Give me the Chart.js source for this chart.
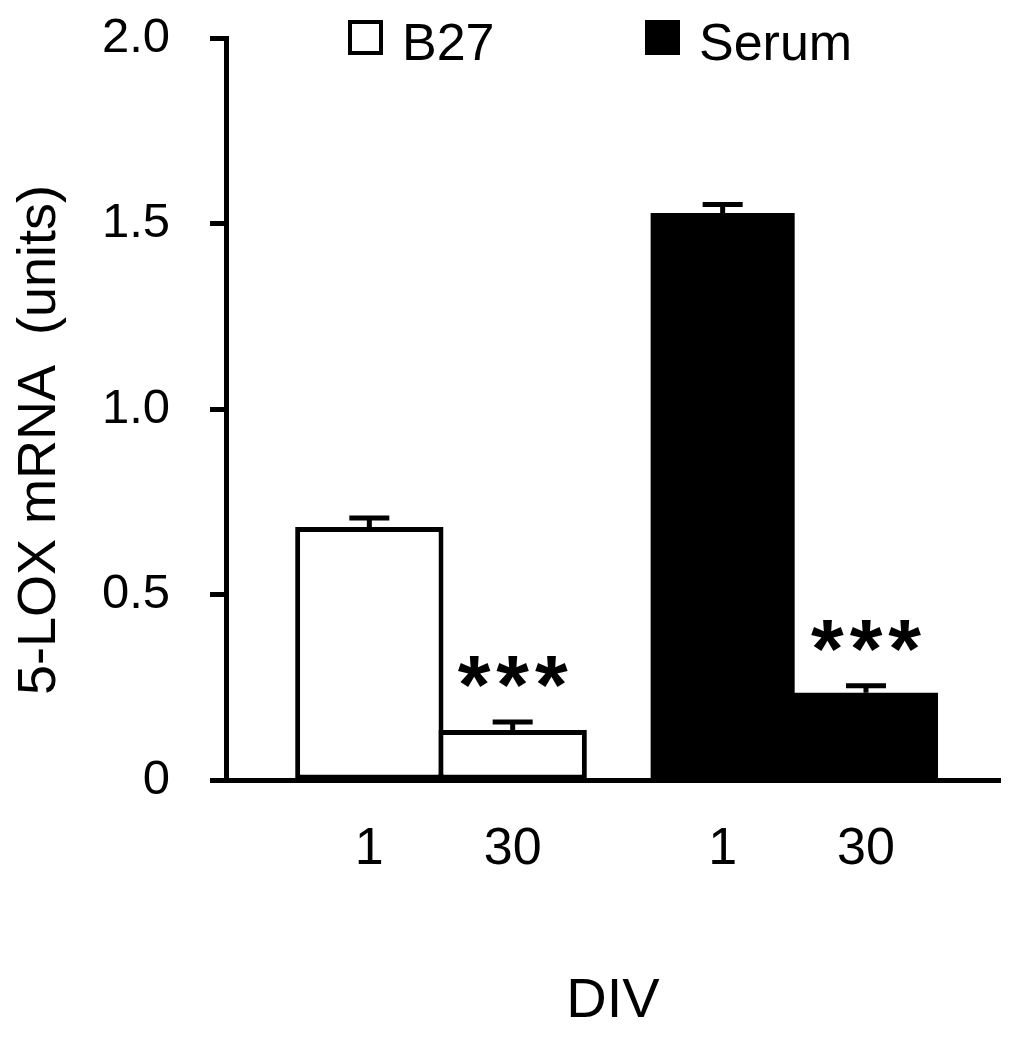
<!DOCTYPE html>
<html>
<head>
<meta charset="utf-8">
<script src="https://cdn.jsdelivr.net/npm/chart.js@4/dist/chart.umd.min.js"></script>
<style>
html, body { margin: 0; padding: 0; background: #fff; }
canvas { display: block; }
</style>
</head>
<body>
<canvas id="c" width="1036" height="1050"></canvas>
<script>
// ---- data ----
const media = ['B27', 'Serum'];
const divLabels = ['1', '30'];
const b27Means = [0.682, 0.135];
const b27Errors = [0.024, 0.021];
const serumMeans = [1.528, 0.235];
const serumErrors = [0.023, 0.019];
const significance = ['', '***'];
const yTickValues = [0, 0.5, 1.0, 1.5, 2.0];
const yTickLabels = ['0', '0.5', '1.0', '1.5', '2.0'];
const yTitle = '5-LOX mRNA  (units)';
const xTitle = 'DIV';

// ---- layout helpers (not data) ----
const FONT = "'Liberation Sans', Arial, sans-serif";
const groupStart = [0.5, 2.965];   // start of each medium group on the x axis (bar units)
const xMax = 5.4;

const xTickValues = [];
const xTickLabels = [];
groupStart.forEach(s => divLabels.forEach((d, i) => { xTickValues.push(s + i + 0.5); xTickLabels.push(d); }));

function toPoints(g, means) {
  return means.map((v, i) => ({ x: groupStart[g] + i + 0.5, y: v }));
}

const errorBarPlugin = {
  id: 'errorBars',
  afterDatasetsDraw(chart, args, opts) {
    const { ctx } = chart;
    const y = chart.scales.y;
    chart.data.datasets.forEach((ds, di) => {
      const meta = chart.getDatasetMeta(di);
      meta.data.forEach((bar, i) => {
        const v = ds.data[i].y;
        const top = y.getPixelForValue(v + ds.errors[i]);
        ctx.save();
        ctx.strokeStyle = '#000';
        ctx.lineWidth = opts.lineWidth;
        ctx.lineCap = 'butt';
        ctx.beginPath();
        ctx.moveTo(bar.x, bar.y);
        ctx.lineTo(bar.x, top);
        ctx.moveTo(bar.x - opts.capHalf, top);
        ctx.lineTo(bar.x + opts.capHalf, top);
        ctx.stroke();
        const sig = ds.significance[i];
        if (sig) {
          ctx.fillStyle = '#000';
          ctx.font = opts.starFont;
          ctx.textAlign = 'center';
          ctx.textBaseline = 'alphabetic';
          if ('letterSpacing' in ctx) ctx.letterSpacing = opts.starSpacing + 'px';
          ctx.fillText(sig, bar.x + opts.starSpacing / 2, top + opts.starOffset);
        }
        ctx.restore();
      });
    });
  }
};

const overlayPlugin = {
  id: 'overlay',
  afterDraw(chart, args, opts) {
    const { ctx, chartArea } = chart;
    ctx.save();
    // legend
    ctx.font = opts.legendFont;
    ctx.textAlign = 'left';
    ctx.textBaseline = 'alphabetic';
    chart.data.datasets.forEach((ds, i) => {
      const bx = chartArea.left + opts.legendX[i];
      const by = opts.legendY;
      ctx.fillStyle = ds.backgroundColor;
      ctx.fillRect(bx, by, opts.box, opts.box);
      ctx.strokeStyle = '#000';
      ctx.lineWidth = 4;
      ctx.strokeRect(bx + 2, by + 2, opts.box - 4, opts.box - 4);
      ctx.fillStyle = '#000';
      ctx.fillText(ds.label, bx + opts.box + opts.textGap, opts.legendBaseline);
    });
    // y title
    ctx.font = opts.yTitleFont;
    ctx.textAlign = 'center';
    ctx.textBaseline = 'alphabetic';
    ctx.translate(opts.yTitleX, opts.yTitleY);
    ctx.rotate(-Math.PI / 2);
    ctx.fillStyle = '#000';
    ctx.fillText(yTitle, 0, 0);
    ctx.restore();
  }
};

new Chart(document.getElementById('c'), {
  type: 'bar',
  data: {
    datasets: [
      {
        label: media[0],
        data: toPoints(0, b27Means),
        errors: b27Errors,
        significance: significance,
        backgroundColor: '#ffffff',
        borderColor: '#000000',
        borderWidth: 5,
        borderSkipped: false,
        barPercentage: 1.035
      },
      {
        label: media[1],
        data: toPoints(1, serumMeans),
        errors: serumErrors,
        significance: significance,
        backgroundColor: '#000000',
        borderColor: '#000000',
        borderWidth: 0,
        barPercentage: 1.005
      }
    ]
  },
  options: {
    responsive: false,
    animation: false,
    devicePixelRatio: 1,
    grouped: false,
    categoryPercentage: 1,
    layout: { padding: { top: 38, right: 36, left: 0, bottom: 0 } },
    plugins: {
      legend: { display: false },
      tooltip: { enabled: false },
      errorBars: { lineWidth: 5, capHalf: 20, starFont: "bold 84px " + FONT, starSpacing: 6, starOffset: -8 },
      overlay: {
        legendFont: "52px " + FONT,
        legendX: [122, 419],
        legendY: 20,
        box: 35,
        textGap: 19,
        legendBaseline: 60,
        yTitleFont: "54px " + FONT,
        yTitleX: 55,
        yTitleY: 440
      }
    },
    scales: {
      x: {
        type: 'linear',
        offset: false,
        min: 0,
        max: xMax,
        afterFit: s => { s.height = 270; },
        afterBuildTicks: s => { s.ticks = xTickValues.map(v => ({ value: v })); },
        grid: { display: true, drawOnChartArea: false, drawTicks: false, offset: false },
        border: { display: true, color: '#000', width: 5 },
        ticks: {
          color: '#000',
          font: { family: FONT, size: 52 },
          padding: 38,
          maxRotation: 0,
          autoSkip: false,
          callback: (v, i) => xTickLabels[i]
        },
        title: {
          display: true,
          text: xTitle,
          color: '#000',
          font: { family: FONT, size: 56 },
          padding: { top: 0, bottom: 15 }
        }
      },
      y: {
        min: 0,
        max: 2,
        afterFit: s => { s.width = 226; s.paddingTop = 0; s.paddingBottom = 0; },
        afterBuildTicks: s => { s.ticks = yTickValues.map(v => ({ value: v })); },
        grid: { display: true, drawOnChartArea: false, drawTicks: true, tickLength: 16, tickWidth: 5, tickColor: '#000' },
        border: { display: true, color: '#000', width: 5 },
        ticks: {
          color: '#000',
          font: { family: FONT, size: 49 },
          padding: 40,
          callback: (v, i) => yTickLabels[i]
        }
      }
    }
  },
  plugins: [errorBarPlugin, overlayPlugin]
});
</script>
</body>
</html>
